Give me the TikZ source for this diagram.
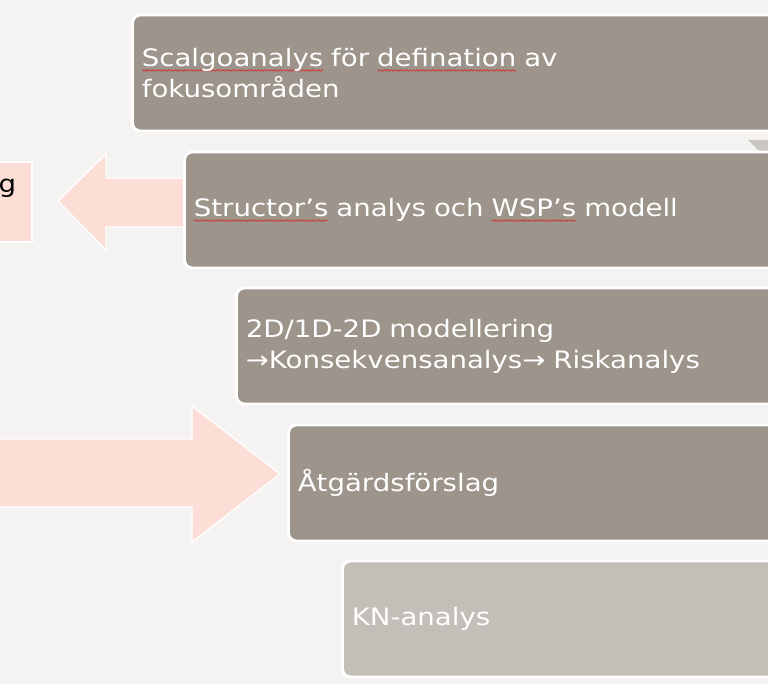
\documentclass[tikz,border=0pt]{standalone}
\usepackage{fontspec}
\setmainfont[FakeStretch=1.15]{DejaVu Sans}
\usetikzlibrary{decorations.pathmorphing}
\definecolor{bgc}{HTML}{F4F3F2}
\definecolor{taupe}{HTML}{9D948B}
\definecolor{lighttaupe}{HTML}{C3BEB8}
\definecolor{pinkc}{HTML}{FCDED6}
\definecolor{tric}{HTML}{C9C5C1}
\definecolor{squig}{HTML}{D03030}
\newsavebox\squigbox
\newcommand\squig[1]{\leavevmode\sbox\squigbox{#1}\rlap{\tikz[overlay,baseline=0pt,x=1pt,y=1pt]\draw[draw=squig, fill=none, sharp corners, line width=0.5pt, decorate, decoration={snake, amplitude=0.6pt, segment length=2.4pt}] (0,-3) -- (\the\wd\squigbox,-3);}\usebox\squigbox}
\tikzset{
  stepbox/.style={draw=white, line width=2.2pt, fill=taupe, rounded corners=6pt,
    anchor=north west, outer sep=0pt, minimum height=87pt, text width=525pt, inner xsep=7pt,
    align=left, text=white, font=\fontsize{18}{23.25}\selectfont},
  lastbox/.style={stepbox, fill=lighttaupe},
  pinkarrow/.style={fill=pinkc, draw=white, line width=1pt},
}
\begin{document}
\begin{tikzpicture}[x=0.75pt,y=-0.75pt]
\useasboundingbox (0,0) rectangle (768,684);
\clip (0,0) rectangle (768,684);
\fill[bgc] (-2,-2) rectangle (770,686);
% arrows
\draw[pinkarrow] (205,178) -- (106,178) -- (106,154) -- (58,201) -- (106,250) -- (106,227) -- (205,227) -- cycle;
\draw[pinkarrow] (-5,439) -- (192,439) -- (192,406) -- (280,474) -- (192,542) -- (192,507) -- (-5,507) -- cycle;
% left pink box
\draw[pinkarrow] (-5,162) rectangle (32,242);
\node[anchor=base east, inner sep=0pt, font=\fontsize{18}{23}\selectfont] (g) at (16.5,193) {g};
% boxes
\node[stepbox] (b1) at (132.5,15) {\squig{Scalgoanalys} för \squig{defination} av\\fokusområden};
\fill[tric] (748,140) -- (770,140) -- (770,162) -- cycle;
\node[stepbox] (b2) at (184.5,152) {\squig{Structor’s} analys och \squig{WSP’s} modell};
\node[stepbox] (b3) at (236.5,288) {2D/1D-2D modellering\\→Konsekvensanalys→ Riskanalys};
\node[stepbox] (b4) at (288.5,425) {Åtgärdsförslag};
\node[lastbox] (b5) at (342.5,561) {KN-analys};
\end{tikzpicture}
\end{document}
